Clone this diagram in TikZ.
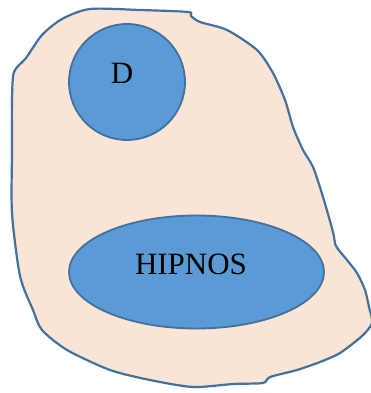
\documentclass[tikz,border=0pt]{standalone}
\usepackage{fontspec}
\setmainfont{Liberation Serif}
\usetikzlibrary{shapes.geometric}
\definecolor{blobfill}{HTML}{FAE4D6}
\definecolor{blobline}{HTML}{41719C}
\definecolor{bluefill}{HTML}{5B9BD5}
\definecolor{blueline}{HTML}{41719C}
\tikzset{
  blob/.style={fill=blobfill, draw=blobline, line width=2.2pt, line join=round},
  bluebox/.style={fill=bluefill, draw=blueline, line width=1.8pt, inner sep=0pt},
  lbl/.style={font=\fontsize{31}{31}\selectfont, text=black, inner sep=0pt}
}
\begin{document}
\begin{tikzpicture}[x=1pt,y=-1pt]
\useasboundingbox (0,0) rectangle (371,393);
\draw[blob] plot[smooth cycle, tension=0.45] coordinates {
 (90,9) (140,10) (188,12) (191,16) (200,22) (227,30) (257,50) (273,73)
 (285,100) (293,127) (303,150) (313,167) (323,197) (333,232) (336,246)
 (347,260) (357,273) (365,290) (369,307) (372,323) (362,336)
 (340,353) (320,362) (297,370) (270,377) (263,383) (233,384) (193,387)
 (150,380) (110,370) (67,350) (42,330) (33,310) (20,276) (12,213)
 (12,150) (12,100) (14,72) (26,58) (42,35) (62,19)};
\node[bluebox, circle, minimum size=116pt] (d) at (127,82) {};
\node[bluebox, ellipse, minimum width=255pt, minimum height=113pt] (h) at (196.5,272) {};
\node[lbl] (dl) at (122,73) {D};
\node[lbl] (hl) at (191,264) {HIPNOS};
\end{tikzpicture}
\end{document}
